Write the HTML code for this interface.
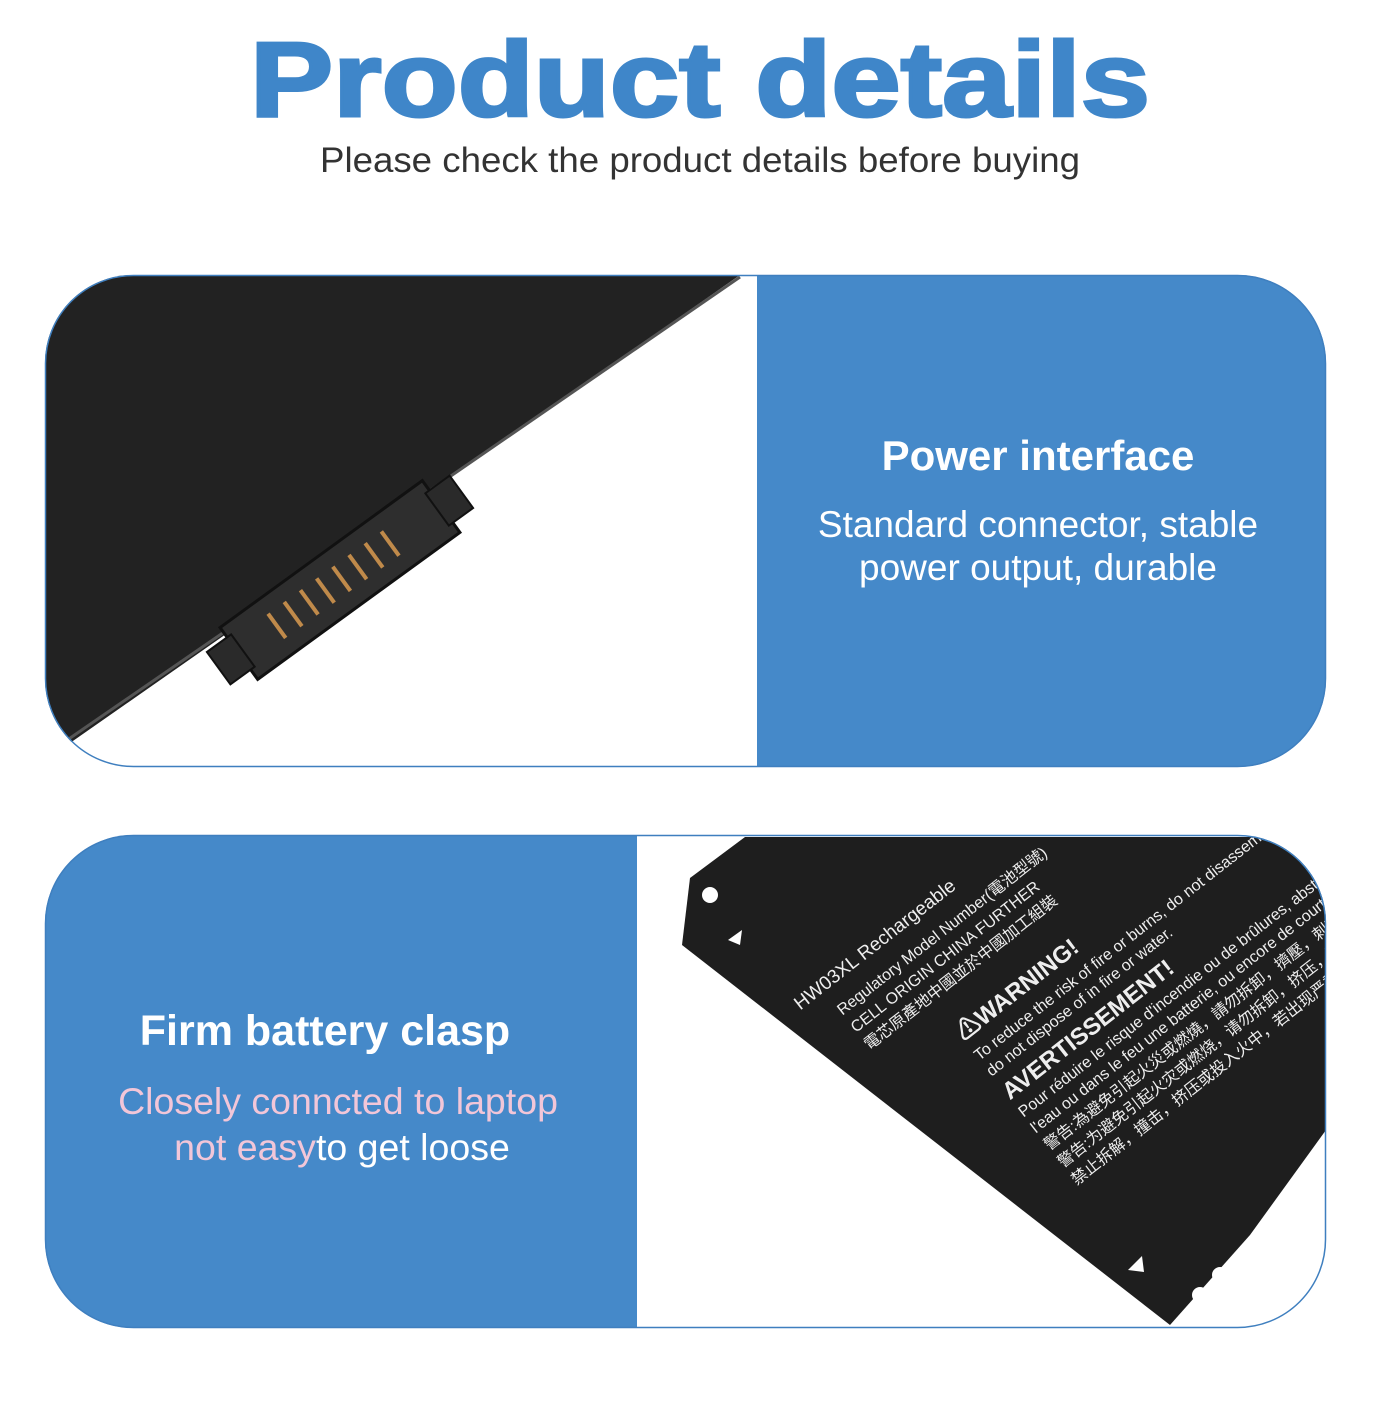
<!DOCTYPE html>
<html><head><meta charset="utf-8"><style>
body{margin:0;width:1400px;height:1400px;background:#fff;overflow:hidden;font-family:"Liberation Sans","Noto Sans CJK SC",sans-serif}
</style></head><body>
<svg width="1400" height="1400" viewBox="0 0 1400 1400" xmlns="http://www.w3.org/2000/svg" font-family="Liberation Sans, Noto Sans CJK SC, sans-serif">
<defs>
<clipPath id="c1"><rect x="45" y="275" width="1281" height="492" rx="88"/></clipPath>
<clipPath id="c2"><rect x="45" y="835" width="1281" height="493" rx="88"/></clipPath>
</defs>
<text x="250" y="116" textLength="900" lengthAdjust="spacingAndGlyphs" font-size="106" font-weight="bold" fill="#3f86c9" stroke="#3f86c9" stroke-width="3">Product details</text>
<text x="320" y="172" textLength="760" lengthAdjust="spacingAndGlyphs" font-size="35" fill="#333">Please check the product details before buying</text>

<g clip-path="url(#c1)">
<rect x="45" y="275" width="1281" height="492" fill="#fff"/>
<polygon points="45,275 740,275 60,750 45,760" fill="#222"/>
<line x1="740" y1="277" x2="60" y2="745" stroke="#555" stroke-width="3"/>
<g transform="translate(340,580) rotate(-36)">
<rect x="-125" y="-32" width="250" height="64" fill="#2e2e2e" stroke="#111" stroke-width="3"/>
<rect x="-150" y="-20" width="30" height="40" fill="#2a2a2a" stroke="#111" stroke-width="2"/>
<rect x="120" y="-20" width="30" height="40" fill="#2a2a2a" stroke="#111" stroke-width="2"/>
<g fill="#c08a4a"><rect x="-80" y="-15" width="4" height="30"/><rect x="-60" y="-15" width="4" height="30"/><rect x="-40" y="-15" width="4" height="30"/><rect x="-20" y="-15" width="4" height="30"/><rect x="0" y="-15" width="4" height="30"/><rect x="20" y="-15" width="4" height="30"/><rect x="40" y="-15" width="4" height="30"/><rect x="60" y="-15" width="4" height="30"/></g>
</g>
<rect x="757" y="275" width="569" height="492" fill="#4589c9"/>
</g>
<rect x="45.5" y="275.5" width="1280" height="491" rx="88" fill="none" stroke="#3f7fbf" stroke-width="1.5"/>
<text x="1038" y="470" text-anchor="middle" font-size="42" font-weight="bold" fill="#fff">Power interface</text>
<text x="1038" y="537" text-anchor="middle" font-size="37" fill="#fff">Standard connector, stable</text>
<text x="1038" y="580" text-anchor="middle" font-size="37" fill="#fff">power output, durable</text>

<g clip-path="url(#c2)">
<rect x="45" y="835" width="1281" height="493" fill="#fff"/>
<rect x="45" y="835" width="592" height="493" fill="#4589c9"/>
<polygon points="690,878 745,837 1326,837 1326,1130 1250,1235 1170,1325 682,945" fill="#1e1e1e"/>
<circle cx="710" cy="895" r="8" fill="#fff"/>
<circle cx="1220" cy="1275" r="8" fill="#fff"/>
<circle cx="1200" cy="1295" r="8" fill="#fff"/>
<polygon points="728,940 742,930 740,945" fill="#fff"/>
<polygon points="1128,1270 1142,1256 1144,1272" fill="#fff"/>
<g transform="translate(830,1000) rotate(-38)" fill="#eee" font-size="19">
<text x="-30" y="-10">HW03XL  Rechargeable</text>
<text x="0" y="20" font-size="16">Regulatory Model Number(電池型號)</text>
<text x="0" y="42" font-size="16">CELL ORIGIN CHINA FURTHER</text>
<text x="0" y="64" font-size="16">電芯原產地中國並於中國加工組裝</text>
<text x="80" y="115" font-size="24" font-weight="bold">⚠WARNING!</text>
<text x="80" y="140" font-size="16">To reduce the risk of fire or burns, do not disassemble</text>
<text x="80" y="160" font-size="16">do not dispose of in fire or water.</text>
<text x="80" y="190" font-size="24" font-weight="bold">AVERTISSEMENT!</text>
<text x="80" y="212" font-size="16">Pour réduire le risque d'incendie ou de brûlures, abstenez</text>
<text x="80" y="232" font-size="16">l'eau ou dans le feu une batterie, ou encore de court-circuit</text>
<text x="80" y="254" font-size="16">警告:為避免引起火災或燃燒，請勿拆卸，擠壓，刺穿電池</text>
<text x="80" y="276" font-size="16">警告:为避免引起火灾或燃烧，请勿拆卸，挤压，若出现严重鼓胀</text>
<text x="80" y="298" font-size="16">禁止拆解，撞击，挤压或投入火中，若出现严重鼓胀</text>
</g>
</g>
<rect x="45.5" y="835.5" width="1280" height="492" rx="88" fill="none" stroke="#3f7fbf" stroke-width="1.5"/>
<text x="325" y="1045" text-anchor="middle" font-size="43" font-weight="bold" fill="#fff">Firm battery clasp</text>
<text x="338" y="1114" text-anchor="middle" font-size="37.5" fill="#f2c6d8">Closely conncted to laptop</text>
<text x="342" y="1160" text-anchor="middle" font-size="37.5" fill="#fff"><tspan fill="#f2c6d8">not easy</tspan>to get loose</text>
</svg>
</body></html>
